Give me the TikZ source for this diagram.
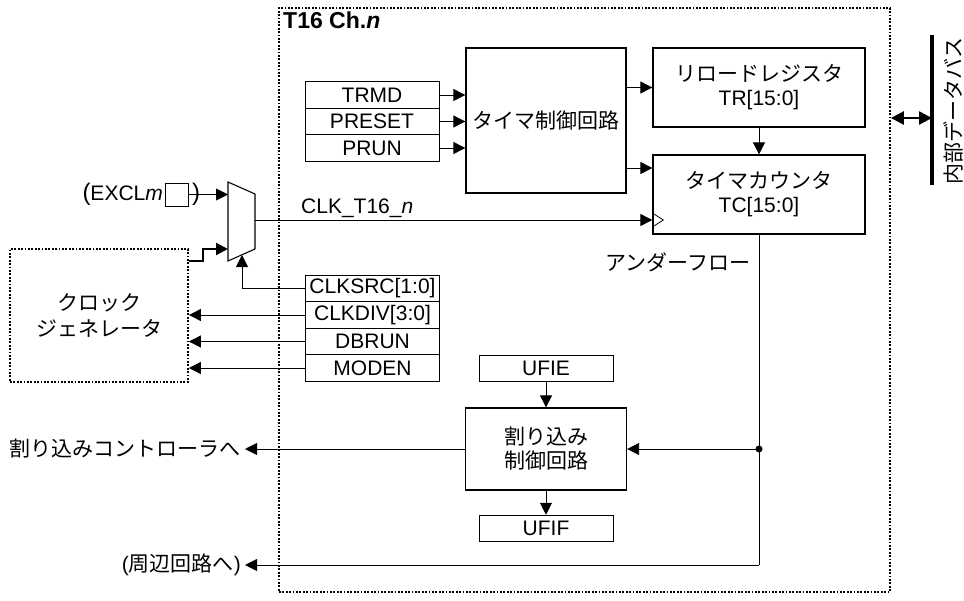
\documentclass[tikz,border=0pt]{standalone}
\usepackage{fontspec}
\setmainfont{Liberation Sans}
\newfontfamily\jp{Noto Sans CJK JP}
\usetikzlibrary{arrows.meta,calc}
\tikzset{
	reg/.style={draw,line width=0.9pt,minimum width=134pt,minimum height=26.6pt,inner sep=0pt},
	blk/.style={draw,line width=1.3pt,inner sep=0pt,align=center,font=\fontsize{21}{24}\selectfont},
	dotbox/.style={draw,line width=1.8pt,dash pattern=on 1.8pt off 1.6pt},
	sig/.style={line width=0.9pt,-{Triangle[length=12pt,width=12pt]}},
}
\begin{document}
\begin{tikzpicture}[x=1pt,y=-1pt,font=\fontsize{21}{24}\selectfont]
	\useasboundingbox (0,0) rectangle (964,600);
	\node[dotbox,minimum width=611pt,minimum height=584pt] (ch) at (584.5,300) {}; %channel
	\node[anchor=north west,inner sep=0pt,font=\fontsize{23}{26}\selectfont\bfseries] (chname) at (283,12) {T16 Ch.\textit{n}};
	
	\node[reg] (trmd) at (372,95) {TRMD};
	\node[reg] (preset) at (372,121.5) {PRESET};
	\node[reg] (prun) at (372,148) {PRUN};
	\node[blk,minimum width=160pt,minimum height=145pt] (tctl) at (546,120.5) {\jp タイマ制御回路};
	\node[blk,minimum width=212pt,minimum height=79pt] (trreg) at (759,87.5) {{\jp リロードレジスタ}\\TR[15:0]};
	\node[blk,minimum width=212pt,minimum height=79pt] (tcnt) at (759,194.5) {{\jp タイマカウンタ}\\TC[15:0]};
	\foreach \r in {trmd,preset,prun}{\draw[sig] (\r.east) -- (\r.east -| tctl.west);}
	\draw[sig] (tctl.east |- trreg.west) -- (trreg.west);
	\draw[sig] (tctl.east |- 0,168) -- (tcnt.west |- 0,168);
	\draw[sig] (trreg.south) -- (tcnt.north);
	
	% clock select
	\draw[line width=1.1pt] (228,182) -- (255,194) -- (255,249) -- (228,261) -- cycle; %mux
	\coordinate (muxa) at (228,194.5);
	\coordinate (muxb) at (228,249);
	\coordinate (muxs) at (242,255);
	\coordinate (muxo) at (255,220);
	\draw[sig] (muxo) -- (tcnt.west |- muxo);
	\draw[line width=0.8pt] (tcnt.west |- 0,213) -- ++(11,7) -- (tcnt.west |- 0,227); %clk
	\node[anchor=base west,inner sep=0pt] (clkname) at (301,213) {CLK\_T16\_\textit{n}};
	\node[draw,line width=0.9pt,minimum size=23pt,inner sep=0pt] (pin) at (176.5,194.5) {};
	\node[anchor=east,inner sep=1.5pt] (excl) at (pin.west) {\fontsize{24}{24}\selectfont(\fontsize{21}{24}\selectfont EXCL\textit{m}};
	\draw[sig] (pin.east) -- (muxa);
	\node[inner sep=0pt,font=\fontsize{24}{24}\selectfont] (rpar) at (196,194.5) {)};
	
	\node[dotbox,minimum width=178pt,minimum height=133pt,align=center,font=\fontsize{21}{26}\selectfont\jp] (cgen) at (99,315.5) {クロック\\ジェネレータ};
	\draw[sig,line width=2.2pt] (cgen.east |- 0,261) -- (203,261) -- (203,249) -- (muxb); %clk src
	
	\node[reg] (clksrc) at (372.5,288.5) {CLKSRC[1:0]};
	\node[reg] (clkdiv) at (372.5,315) {CLKDIV[3:0]};
	\node[reg] (dbrun) at (372.5,341.5) {DBRUN};
	\node[reg] (moden) at (372.5,368) {MODEN};
	\draw[sig] (clksrc.west) -- (muxs |- clksrc.west) -- (muxs);
	\foreach \r in {clkdiv,dbrun,moden}{\draw[sig] (\r.west) -- (\r.west -| cgen.east);}
	
	% interrupt
	\node[reg] (ufie) at (546,368.5) {UFIE};
	\node[blk,minimum width=161pt,minimum height=82pt] (ictl) at (546,449) {{\jp 割り込み}\\{\jp 制御回路}};
	\node[reg] (ufif) at (546,528.5) {UFIF};
	\draw[sig] (ufie.south) -- (ictl.north);
	\draw[sig] (ictl.south) -- (ufif.north);
	
	\node[anchor=east] (ufname) at (754,262) {\jp アンダーフロー};
	\node[anchor=east,inner sep=4pt] (toint) at (245,449) {\jp 割り込みコントローラへ};
	\node[anchor=east,inner sep=4pt] (toper) at (245,565) {({\jp 周辺回路へ})};
	\coordinate (uf) at (tcnt.south |- ictl.east);
	\draw[line width=0.9pt] (tcnt.south) -- (tcnt.south |- toper.east) coordinate (pe);
	\fill (uf) circle (3.5pt);
	\draw[sig] (uf) -- (ictl.east);
	\draw[sig] (ictl.west) -- (toint.east);
	\draw[sig] (pe) -- (toper.east);
	
	% bus
	\coordinate (bust) at (932,35);
	\coordinate (busb) at (932,185);
	\draw[line width=4.5pt] (bust) -- (busb);
	\node[rotate=90] (busname) at (953,111) {\jp 内部データバス};
	\draw[line width=2.5pt,{Triangle[length=13pt,width=13pt]}-{Triangle[length=13pt,width=13pt]}] (ch.east |- 0,118) -- (bust |- 0,118);
\end{tikzpicture}
\end{document}
